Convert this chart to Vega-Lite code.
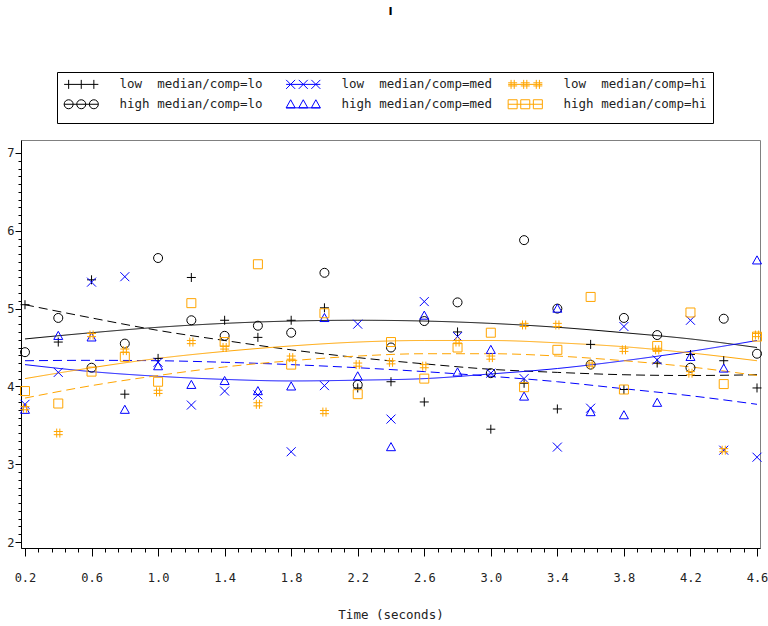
{
  "$schema": "https://vega.github.io/schema/vega-lite/v6.json",
  "width": 739,
  "height": 408,
  "autosize": {"type": "none"},
  "padding": {"left": 21, "top": 140, "right": 8, "bottom": 78},
  "background": "white",
  "title": {"text": "I", "font": "DejaVu Sans", "fontSize": 11, "fontWeight": "bold", "anchor": "middle", "offset": 55, "color": "black"},
  "config": {"view": {"stroke": "#808080", "strokeWidth": 1}},
  "datasets": {
    "pts": [
      {"t":0.2,"s":"LL","v":5.05},{"t":0.4,"s":"LL","v":4.57},{"t":0.6,"s":"LL","v":5.37},{"t":0.8,"s":"LL","v":3.90},{"t":1.0,"s":"LL","v":4.36},{"t":1.2,"s":"LL","v":5.40},{"t":1.4,"s":"LL","v":4.85},{"t":1.6,"s":"LL","v":4.63},{"t":1.8,"s":"LL","v":4.85},{"t":2.0,"s":"LL","v":5.01},{"t":2.2,"s":"LL","v":3.98},{"t":2.4,"s":"LL","v":4.06},{"t":2.6,"s":"LL","v":3.80},{"t":2.8,"s":"LL","v":4.70},{"t":3.0,"s":"LL","v":3.45},{"t":3.2,"s":"LL","v":4.04},{"t":3.4,"s":"LL","v":3.71},{"t":3.6,"s":"LL","v":4.54},{"t":3.8,"s":"LL","v":3.96},{"t":4.0,"s":"LL","v":4.30},{"t":4.2,"s":"LL","v":4.41},{"t":4.4,"s":"LL","v":4.33},{"t":4.6,"s":"LL","v":3.98},
      {"t":0.2,"s":"HL","v":4.44},{"t":0.4,"s":"HL","v":4.88},{"t":0.6,"s":"HL","v":4.24},{"t":0.8,"s":"HL","v":4.55},{"t":1.0,"s":"HL","v":5.65},{"t":1.2,"s":"HL","v":4.85},{"t":1.4,"s":"HL","v":4.65},{"t":1.6,"s":"HL","v":4.78},{"t":1.8,"s":"HL","v":4.69},{"t":2.0,"s":"HL","v":5.46},{"t":2.2,"s":"HL","v":4.02},{"t":2.4,"s":"HL","v":4.50},{"t":2.6,"s":"HL","v":4.84},{"t":2.8,"s":"HL","v":5.08},{"t":3.0,"s":"HL","v":4.17},{"t":3.2,"s":"HL","v":5.88},{"t":3.4,"s":"HL","v":5.00},{"t":3.6,"s":"HL","v":4.28},{"t":3.8,"s":"HL","v":4.88},{"t":4.0,"s":"HL","v":4.66},{"t":4.2,"s":"HL","v":4.24},{"t":4.4,"s":"HL","v":4.87},{"t":4.6,"s":"HL","v":4.42},
      {"t":0.2,"s":"LM","v":3.77},{"t":0.4,"s":"LM","v":4.18},{"t":0.6,"s":"LM","v":5.34},{"t":0.8,"s":"LM","v":5.41},{"t":1.0,"s":"LM","v":4.31},{"t":1.2,"s":"LM","v":3.76},{"t":1.4,"s":"LM","v":3.94},{"t":1.6,"s":"LM","v":3.89},{"t":1.8,"s":"LM","v":3.16},{"t":2.0,"s":"LM","v":4.01},{"t":2.2,"s":"LM","v":4.80},{"t":2.4,"s":"LM","v":3.58},{"t":2.6,"s":"LM","v":5.09},{"t":2.8,"s":"LM","v":4.64},{"t":3.0,"s":"LM","v":4.17},{"t":3.2,"s":"LM","v":4.10},{"t":3.4,"s":"LM","v":3.22},{"t":3.6,"s":"LM","v":3.72},{"t":3.8,"s":"LM","v":4.77},{"t":4.0,"s":"LM","v":4.34},{"t":4.2,"s":"LM","v":4.85},{"t":4.4,"s":"LM","v":3.18},{"t":4.6,"s":"LM","v":3.09},
      {"t":0.2,"s":"HM","v":3.70},{"t":0.4,"s":"HM","v":4.65},{"t":0.6,"s":"HM","v":4.63},{"t":0.8,"s":"HM","v":3.70},{"t":1.0,"s":"HM","v":4.26},{"t":1.2,"s":"HM","v":4.02},{"t":1.4,"s":"HM","v":4.07},{"t":1.6,"s":"HM","v":3.94},{"t":1.8,"s":"HM","v":4.00},{"t":2.0,"s":"HM","v":4.88},{"t":2.2,"s":"HM","v":4.13},{"t":2.4,"s":"HM","v":3.22},{"t":2.6,"s":"HM","v":4.91},{"t":2.8,"s":"HM","v":4.18},{"t":3.0,"s":"HM","v":4.47},{"t":3.2,"s":"HM","v":3.87},{"t":3.4,"s":"HM","v":5.00},{"t":3.6,"s":"HM","v":3.67},{"t":3.8,"s":"HM","v":3.63},{"t":4.0,"s":"HM","v":3.79},{"t":4.2,"s":"HM","v":4.38},{"t":4.4,"s":"HM","v":4.23},{"t":4.6,"s":"HM","v":5.62},
      {"t":0.2,"s":"LH","v":3.72},{"t":0.4,"s":"LH","v":3.40},{"t":0.6,"s":"LH","v":4.66},{"t":0.8,"s":"LH","v":4.46},{"t":1.0,"s":"LH","v":3.93},{"t":1.2,"s":"LH","v":4.57},{"t":1.4,"s":"LH","v":4.50},{"t":1.6,"s":"LH","v":3.77},{"t":1.8,"s":"LH","v":4.37},{"t":2.0,"s":"LH","v":3.67},{"t":2.2,"s":"LH","v":4.28},{"t":2.4,"s":"LH","v":4.31},{"t":2.6,"s":"LH","v":4.26},{"t":2.8,"s":"LH","v":4.57},{"t":3.0,"s":"LH","v":4.37},{"t":3.2,"s":"LH","v":4.79},{"t":3.4,"s":"LH","v":4.79},{"t":3.6,"s":"LH","v":4.28},{"t":3.8,"s":"LH","v":4.47},{"t":4.0,"s":"LH","v":4.47},{"t":4.2,"s":"LH","v":4.17},{"t":4.4,"s":"LH","v":3.18},{"t":4.6,"s":"LH","v":4.66},
      {"t":0.2,"s":"HH","v":3.94},{"t":0.4,"s":"HH","v":3.78},{"t":0.6,"s":"HH","v":4.19},{"t":0.8,"s":"HH","v":4.38},{"t":1.0,"s":"HH","v":4.06},{"t":1.2,"s":"HH","v":5.07},{"t":1.4,"s":"HH","v":4.57},{"t":1.6,"s":"HH","v":5.57},{"t":1.8,"s":"HH","v":4.28},{"t":2.0,"s":"HH","v":4.94},{"t":2.2,"s":"HH","v":3.90},{"t":2.4,"s":"HH","v":4.57},{"t":2.6,"s":"HH","v":4.10},{"t":2.8,"s":"HH","v":4.50},{"t":3.0,"s":"HH","v":4.69},{"t":3.2,"s":"HH","v":3.99},{"t":3.4,"s":"HH","v":4.47},{"t":3.6,"s":"HH","v":5.15},{"t":3.8,"s":"HH","v":3.96},{"t":4.0,"s":"HH","v":4.52},{"t":4.2,"s":"HH","v":4.95},{"t":4.4,"s":"HH","v":4.03},{"t":4.6,"s":"HH","v":4.64}
    ],
    "curves": [
      {"t":0.2,"s":"HL","v":4.61},{"t":0.6,"s":"HL","v":4.69},{"t":1.0,"s":"HL","v":4.76},{"t":1.4,"s":"HL","v":4.81},{"t":1.8,"s":"HL","v":4.84},{"t":2.2,"s":"HL","v":4.85},{"t":2.6,"s":"HL","v":4.84},{"t":3.0,"s":"HL","v":4.81},{"t":3.4,"s":"HL","v":4.76},{"t":3.8,"s":"HL","v":4.69},{"t":4.2,"s":"HL","v":4.61},{"t":4.6,"s":"HL","v":4.50},
      {"t":0.2,"s":"LL","v":5.05},{"t":0.6,"s":"LL","v":4.88},{"t":1.0,"s":"LL","v":4.72},{"t":1.4,"s":"LL","v":4.59},{"t":1.8,"s":"LL","v":4.47},{"t":2.2,"s":"LL","v":4.37},{"t":2.6,"s":"LL","v":4.29},{"t":3.0,"s":"LL","v":4.22},{"t":3.4,"s":"LL","v":4.18},{"t":3.8,"s":"LL","v":4.15},{"t":4.2,"s":"LL","v":4.14},{"t":4.6,"s":"LL","v":4.15},
      {"t":0.2,"s":"LM","v":4.33},{"t":0.6,"s":"LM","v":4.335},{"t":1.0,"s":"LM","v":4.33},{"t":1.4,"s":"LM","v":4.31},{"t":1.8,"s":"LM","v":4.28},{"t":2.2,"s":"LM","v":4.24},{"t":2.6,"s":"LM","v":4.19},{"t":3.0,"s":"LM","v":4.13},{"t":3.4,"s":"LM","v":4.06},{"t":3.8,"s":"LM","v":3.97},{"t":4.2,"s":"LM","v":3.88},{"t":4.6,"s":"LM","v":3.77},
      {"t":0.2,"s":"HM","v":4.28},{"t":0.6,"s":"HM","v":4.19},{"t":1.0,"s":"HM","v":4.13},{"t":1.4,"s":"HM","v":4.09},{"t":1.8,"s":"HM","v":4.07},{"t":2.2,"s":"HM","v":4.08},{"t":2.6,"s":"HM","v":4.10},{"t":3.0,"s":"HM","v":4.16},{"t":3.4,"s":"HM","v":4.23},{"t":3.8,"s":"HM","v":4.33},{"t":4.2,"s":"HM","v":4.45},{"t":4.6,"s":"HM","v":4.59},
      {"t":0.2,"s":"HH","v":4.10},{"t":0.6,"s":"HH","v":4.24},{"t":1.0,"s":"HH","v":4.36},{"t":1.4,"s":"HH","v":4.45},{"t":1.8,"s":"HH","v":4.52},{"t":2.2,"s":"HH","v":4.57},{"t":2.6,"s":"HH","v":4.59},{"t":3.0,"s":"HH","v":4.59},{"t":3.4,"s":"HH","v":4.56},{"t":3.8,"s":"HH","v":4.51},{"t":4.2,"s":"HH","v":4.43},{"t":4.6,"s":"HH","v":4.33},
      {"t":0.2,"s":"LH","v":3.85},{"t":0.6,"s":"LH","v":4.01},{"t":1.0,"s":"LH","v":4.14},{"t":1.4,"s":"LH","v":4.25},{"t":1.8,"s":"LH","v":4.33},{"t":2.2,"s":"LH","v":4.39},{"t":2.6,"s":"LH","v":4.42},{"t":3.0,"s":"LH","v":4.42},{"t":3.4,"s":"LH","v":4.39},{"t":3.8,"s":"LH","v":4.33},{"t":4.2,"s":"LH","v":4.25},{"t":4.6,"s":"LH","v":4.14}
    ]
  },
  "layer": [
    {
      "data": {"name": "curves"},
      "mark": {"type": "line", "strokeWidth": 1, "interpolate": "monotone", "clip": true},
      "encoding": {
        "x": {"field": "t", "type": "quantitative", "scale": {"domain": [0.176, 4.618], "nice": false, "zero": false},
          "axis": {
            "values": [0.2,0.28,0.36,0.44,0.52,0.6,0.68,0.76,0.84,0.92,1.0,1.08,1.16,1.24,1.32,1.4,1.48,1.56,1.64,1.72,1.8,1.88,1.96,2.04,2.12,2.2,2.28,2.36,2.44,2.52,2.6,2.68,2.76,2.84,2.92,3.0,3.08,3.16,3.24,3.32,3.4,3.48,3.56,3.64,3.72,3.8,3.88,3.96,4.04,4.12,4.2,4.28,4.36,4.44,4.52,4.6],
            "tickCount": 500,
            "labelExpr": "abs((datum.value-0.2)/0.4 - round((datum.value-0.2)/0.4)) < 0.01 ? format(datum.value, '.1f') : ''",
            "tickSize": {"condition": {"test": "abs((datum.value-0.2)/0.4 - round((datum.value-0.2)/0.4)) < 0.01", "value": 8}, "value": 4},
            "labelOverlap": false, "labelFlush": false,
            "labelFont": "DejaVu Sans Mono", "labelFontSize": 12, "labelColor": "#222", "labelPadding": 16,
            "domainColor": "black", "tickColor": "black", "grid": false,
            "title": "Time (seconds)", "titleFont": "DejaVu Sans Mono", "titleFontSize": 12.5, "titleFontWeight": "normal", "titleColor": "#222", "titlePadding": 25
          }},
        "y": {"field": "v", "type": "quantitative", "scale": {"domain": [1.923, 7.167], "nice": false, "zero": false},
          "axis": {
            "values": [2,2.1,2.2,2.3,2.4,2.5,2.6,2.7,2.8,2.9,3,3.1,3.2,3.3,3.4,3.5,3.6,3.7,3.8,3.9,4,4.1,4.2,4.3,4.4,4.5,4.6,4.7,4.8,4.9,5,5.1,5.2,5.3,5.4,5.5,5.6,5.7,5.8,5.9,6,6.1,6.2,6.3,6.4,6.5,6.6,6.7,6.8,6.9,7],
            "tickCount": 500,
            "labelExpr": "abs(datum.value - round(datum.value)) < 0.01 ? format(datum.value, 'd') : ''",
            "tickSize": {"condition": {"test": "abs(datum.value - round(datum.value)) < 0.01", "value": 6}, "value": 3},
            "labelOverlap": false, "labelFont": "DejaVu Sans Mono", "labelFontSize": 12, "labelColor": "#222", "labelPadding": 1,
            "domainColor": "black", "tickColor": "black", "grid": false, "title": null
          }},
        "color": {"field": "s", "type": "nominal", "legend": null,
          "scale": {"domain": ["LL","LM","LH","HL","HM","HH"], "range": ["#000000","#0000ff","#ffa500","#000000","#0000ff","#ffa500"]}},
        "strokeDash": {"field": "s", "type": "nominal", "legend": null,
          "scale": {"domain": ["LL","LM","LH","HL","HM","HH"], "range": [[9,5],[9,5],[9,5],[1,0],[1,0],[1,0]]}}
      }
    },
    {
      "data": {"name": "pts"},
      "mark": {"type": "point", "filled": false, "strokeWidth": 1, "size": 81, "opacity": 1},
      "encoding": {
        "x": {"field": "t", "type": "quantitative"},
        "y": {"field": "v", "type": "quantitative"},
        "color": {"field": "s", "type": "nominal", "legend": null},
        "shape": {"field": "s", "type": "nominal", "legend": null,
          "scale": {"domain": ["LL","LM","LH","HL","HM","HH"],
            "range": ["M-1,0H1M0,-1V1", "M-1,-1L1,1M-1,1L1,-1", "M-0.35,-1V1M0.35,-1V1M-1,-0.35H1M-1,0.35H1", "M-1,0A1,1,0,1,0,1,0A1,1,0,1,0,-1,0Z", "M0,-1L1,0.8L-1,0.8Z", "M-1,-1H1V1H-1Z"]}}
      }
    },
    {
      "data": {"name": "pts"},
      "transform": [{"filter": "false"}],
      "mark": {"type": "point", "filled": false, "strokeWidth": 1, "opacity": 1},
      "encoding": {
        "shape": {"field": "s", "type": "nominal",
          "scale": {"domain": ["LL","LM","LH","HL","HM","HH"],
            "range": [
              "M-3.8,0H3.8M-2.8,-1V1M0,-1V1M2.8,-1V1",
              "M-3.8,-1L-1.8,1M-3.8,1L-1.8,-1M-1,-1L1,1M-1,1L1,-1M1.8,-1L3.8,1M1.8,1L3.8,-1M-3.8,0H3.8",
              "M-3.15,-1V1M-2.45,-1V1M-3.8,-0.35H-1.8M-3.8,0.35H-1.8M-0.35,-1V1M0.35,-1V1M-1,-0.35H1M-1,0.35H1M2.45,-1V1M3.15,-1V1M1.8,-0.35H3.8M1.8,0.35H3.8M-3.8,0H3.8",
              "M-3.8,0A1,1,0,1,0,-1.8,0A1,1,0,1,0,-3.8,0M-1,0A1,1,0,1,0,1,0A1,1,0,1,0,-1,0M1.8,0A1,1,0,1,0,3.8,0A1,1,0,1,0,1.8,0M-3.8,0H3.8",
              "M-2.8,-1L-1.8,0.8L-3.8,0.8ZM0,-1L1,0.8L-1,0.8ZM2.8,-1L3.8,0.8L1.8,0.8ZM-3.8,0.8H3.8",
              "M-3.8,-1H-1.8V1H-3.8ZM-1,-1H1V1H-1ZM1.8,-1H3.8V1H1.8ZM-3.8,0H3.8"
            ]},
          "legend": {
            "title": "\u00a0", "titleOrient": "bottom", "titleFontSize": 6, "titlePadding": 0,
            "orient": "none", "legendX": 36, "legendY": -68,
            "direction": "horizontal", "columns": 3, "gridAlign": "all", "columnPadding": 13, "rowPadding": 6,
            "padding": 6, "strokeColor": "black", "fillColor": "white",
            "symbolSize": 81, "symbolStrokeWidth": 1, "symbolOffset": 12, "labelOffset": 32,
            "symbolStrokeColor": {"expr": "scale('color', datum.value)"}, "symbolFillColor": "transparent", "symbolOpacity": 1,
            "labelFont": "DejaVu Sans Mono", "labelFontSize": 12.5, "labelColor": "#222", "labelLimit": 400,
            "labelExpr": "{'LL':'low\u00a0\u00a0median/comp=lo','LM':'low\u00a0\u00a0median/comp=med','LH':'low\u00a0\u00a0median/comp=hi','HL':'high median/comp=lo','HM':'high median/comp=med','HH':'high median/comp=hi'}[datum.label]"
          }
        },
        "color": {"field": "s", "type": "nominal", "legend": null}
      }
    }
  ],
  "resolve": {"scale": {"shape": "independent"}, "legend": {"shape": "independent"}}
}
